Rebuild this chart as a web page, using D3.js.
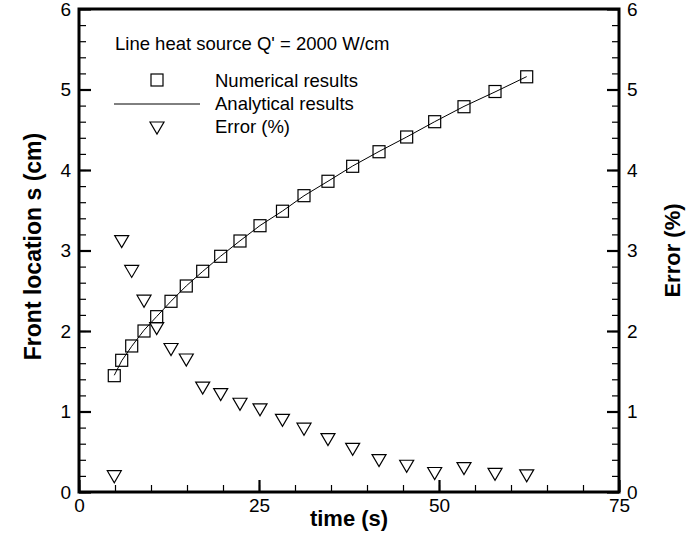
<!DOCTYPE html>
<html>
<head>
<meta charset="utf-8">
<script src="https://cdn.jsdelivr.net/npm/d3@7"></script>
<style>
  body { margin: 0; background: #fff; }
  svg { display: block; font-family: "Liberation Sans", Arial, sans-serif; }
</style>
</head>
<body>
<div id="mywrap"></div>
<script>
// data
const time = [4.9, 5.93, 7.32, 9.03, 10.79, 12.78, 14.9, 17.18, 19.68, 22.36, 25.14,
              28.26, 31.25, 34.58, 38.01, 41.67, 45.51, 49.4, 53.47, 57.78, 62.18]
const numerical = [1.445, 1.636, 1.814, 2.0, 2.178, 2.369, 2.559, 2.742, 2.928, 3.118, 3.308,
                   3.488, 3.681, 3.86, 4.046, 4.227, 4.41, 4.6, 4.786, 4.975, 5.158]
const analytical = [1.45, 1.63, 1.81, 2.01, 2.18, 2.37, 2.56, 2.74, 2.93, 3.12, 3.31,
                    3.49, 3.68, 3.86, 4.05, 4.23, 4.41, 4.6, 4.79, 4.97, 5.16]
const errorPct = [0.19, 3.11, 2.74, 2.37, 2.03, 1.77, 1.64, 1.29, 1.21, 1.09, 1.02,
                  0.89, 0.78, 0.65, 0.53, 0.39, 0.32, 0.23, 0.29, 0.22, 0.2]

const xTicks = [0, 25, 50, 75]
const yTicks = [0, 1, 2, 3, 4, 5, 6]
const xMinor = d3.range(0, 75.01, 5)
const yMinor = d3.range(0, 6.01, 0.2)

const legendTitle = "Line heat source Q' = 2000 W/cm"
const legendLabels = ["Numerical results", "Analytical results", "Error (%)"]

let sWidth = 695, sHeight = 550,
    margin = {top: 9, right: 76, bottom: 58, left: 79}

let width = sWidth - (margin.left + margin.right),
    height = sHeight - (margin.top + margin.bottom)

let svg = d3.select("#mywrap").append("svg")
    .attr("width", sWidth)
    .attr("height", sHeight)

let g = svg.append("g")
    .attr("transform", `translate(${margin.left},${margin.top})`)

let xScale = d3.scaleLinear().domain([0, 75]).range([0, width])
let yScale = d3.scaleLinear().domain([0, 6]).range([height, 0])
let yErr = d3.scaleLinear().domain([0, 6]).range([height, 0])

// minor ticks
g.append("g").attr("class", "minor")
    .attr("transform", `translate(0,${height})`)
    .call(d3.axisBottom(xScale).tickValues(xMinor).tickSize(-7).tickFormat(""))
g.append("g").attr("class", "minor")
    .call(d3.axisLeft(yScale).tickValues(yMinor).tickSize(-7).tickFormat(""))
g.append("g").attr("class", "minor")
    .attr("transform", `translate(${width},0)`)
    .call(d3.axisRight(yErr).tickValues(yMinor).tickSize(-7).tickFormat(""))

// major ticks + labels
g.append("g").attr("class", "major")
    .attr("transform", `translate(0,${height})`)
    .call(d3.axisBottom(xScale).tickValues(xTicks).tickSize(-12).tickPadding(7).tickFormat(d3.format("d")))
g.append("g").attr("class", "major")
    .call(d3.axisLeft(yScale).tickValues(yTicks).tickSize(-12).tickPadding(8).tickFormat(d3.format("d")))
g.append("g").attr("class", "major")
    .attr("transform", `translate(${width},0)`)
    .call(d3.axisRight(yErr).tickValues(yTicks).tickSize(-12).tickPadding(8).tickFormat(d3.format("d")))

g.selectAll(".domain").remove()
g.selectAll(".minor line").attr("stroke", "#000").attr("stroke-width", 1.2)
g.selectAll(".major line").attr("stroke", "#000").attr("stroke-width", 2.2)
g.selectAll(".major text")
    .attr("fill", "#000")
    .style("font-size", "19px")

// frame
g.append("rect")
    .attr("width", width)
    .attr("height", height)
    .attr("fill", "none")
    .attr("stroke", "#000")
    .attr("stroke-width", 3)

// analytical line
let line = d3.line()
    .x((d, i) => xScale(time[i]))
    .y(d => yScale(d))

g.append("path")
    .datum(analytical)
    .attr("d", line)
    .attr("fill", "none")
    .attr("stroke", "#000")
    .attr("stroke-width", 1)

// numerical squares
g.selectAll("rect.num")
    .data(numerical)
    .enter()
    .append("rect")
    .attr("class", "num")
    .attr("x", (d, i) => xScale(time[i]) - 6)
    .attr("y", d => yScale(d) - 6)
    .attr("width", 12)
    .attr("height", 12)
    .attr("fill", "none")
    .attr("stroke", "#000")
    .attr("stroke-width", 1.2)

// error triangles (pointing down)
const tri = "M-7,-6L7,-6L0,6Z"
g.selectAll("path.err")
    .data(errorPct)
    .enter()
    .append("path")
    .attr("class", "err")
    .attr("d", tri)
    .attr("transform", (d, i) => `translate(${xScale(time[i])},${yErr(d)})`)
    .attr("fill", "none")
    .attr("stroke", "#000")
    .attr("stroke-width", 1.2)

// legend
let leg = svg.append("g").style("font-size", "18.5px").attr("fill", "#000")
leg.append("text").attr("x", 115).attr("y", 50).text(legendTitle)
legendLabels.forEach((t, i) => {
    leg.append("text").attr("x", 215).attr("y", 87 + i * 23).text(t)
})
leg.append("rect")
    .attr("x", 151).attr("y", 74).attr("width", 12).attr("height", 12)
    .attr("fill", "none").attr("stroke", "#000").attr("stroke-width", 1.2)
leg.append("line")
    .attr("x1", 114).attr("x2", 200).attr("y1", 104).attr("y2", 104)
    .attr("stroke", "#000").attr("stroke-width", 1)
leg.append("path")
    .attr("d", tri)
    .attr("transform", "translate(157,128)")
    .attr("fill", "none").attr("stroke", "#000").attr("stroke-width", 1.2)

// axis titles
svg.append("text")
    .attr("x", margin.left + width / 2)
    .attr("y", 526)
    .attr("text-anchor", "middle")
    .style("font-size", "22px")
    .style("font-weight", "bold")
    .text("time (s)")

svg.append("text")
    .attr("transform", `translate(41,${margin.top + height / 2 - 4}) rotate(-90)`)
    .attr("text-anchor", "middle")
    .style("font-size", "23px")
    .style("font-weight", "bold")
    .text("Front location s (cm)")

svg.append("text")
    .attr("transform", `translate(680,${margin.top + height / 2}) rotate(-90)`)
    .attr("text-anchor", "middle")
    .style("font-size", "22px")
    .style("font-weight", "bold")
    .text("Error (%)")
</script>
</body>
</html>
